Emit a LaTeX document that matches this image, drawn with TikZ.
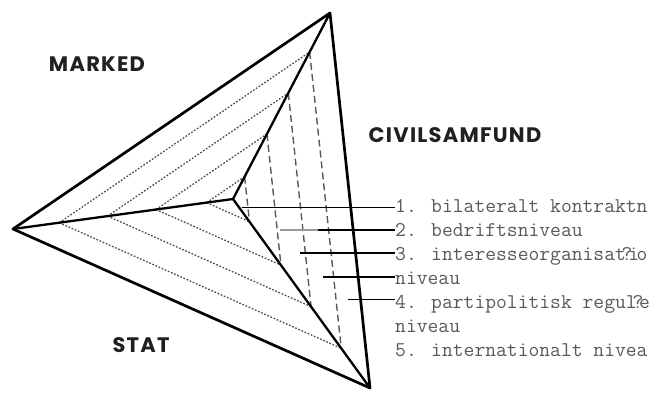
\documentclass[tikz,border=0pt]{standalone}
\usepackage{fontspec}
\newfontfamily\headfont{Poppins}[LetterSpace=6]
\usetikzlibrary{calc}
\definecolor{headink}{HTML}{231F20}
\newcommand\squeezeq[1]{\kern-0.2em?\kern-0.2em#1\kern-0.125em}
\begin{document}
\begin{tikzpicture}[x=1pt, y=-1pt, line join=round, line cap=round,
	frame/.style={line width=2.7pt},
	spoke/.style={line width=2.3pt},
	dotline/.style={draw=black!70, line width=1.3pt, line cap=butt, dash pattern=on 1.7pt off 1.7pt},
	dashline/.style={draw=black!65, line width=1.4pt, line cap=butt, dash pattern=on 7pt off 4pt},
	pointer/.style={line width=1.4pt, line cap=butt},
	level/.style={font=\ttfamily\fontsize{21}{24}\selectfont, text=black!65, anchor=base west, inner sep=0pt},
	sector/.style={font=\headfont\bfseries\fontsize{21}{24}\selectfont, text=headink, inner sep=0pt}]
	\useasboundingbox (0,0) rectangle (652,394);
	\coordinate (L) at (13,229);
	\coordinate (T) at (330,13);
	\coordinate (B) at (370,388);
	\coordinate (C) at (233,199);

	% marked
	\draw[dotline] ($(C)!0.12!(L)$)--($(C)!0.12!(T)$);
	\draw[dotline] ($(C)!0.35!(L)$)--($(C)!0.35!(T)$);
	\draw[dotline] ($(C)!0.57!(L)$)--($(C)!0.57!(T)$);
	\draw[dotline] ($(C)!0.79!(L)$)--($(C)!0.79!(T)$);
	% stat
	\draw[dotline] ($(C)!0.12!(L)$)--($(C)!0.12!(B)$);
	\draw[dotline] ($(C)!0.35!(L)$)--($(C)!0.35!(B)$);
	\draw[dotline] ($(C)!0.57!(L)$)--($(C)!0.57!(B)$);
	\draw[dotline] ($(C)!0.79!(L)$)--($(C)!0.79!(B)$);
	% civilsamfund
	\draw[dashline] ($(C)!0.12!(T)$)--($(C)!0.12!(B)$);
	\draw[dashline] ($(C)!0.35!(T)$)--($(C)!0.35!(B)$);
	\draw[dashline] ($(C)!0.57!(T)$)--($(C)!0.57!(B)$);
	\draw[dashline] ($(C)!0.79!(T)$)--($(C)!0.79!(B)$);

	\draw[spoke] (L)--(C) (T)--(C)--(B);
	\draw[frame] (L)--(T)--(B)--cycle;

	\path
	(97,64) node[sector] (marked) {MARKED}
	(455,135) node[sector] (civil) {CIVILSAMFUND}
	(141,345.5) node[sector] (stat) {STAT}

	(395,212.5) node[level] (l1) {1. bilateralt kontraktn}
	(395,236.5) node[level] (l2) {2. bedriftsniveau}
	(395,260.5) node[level] (l3) {3. interesseorganisat\squeezeq{i}o}
	(395,284.5) node[level] (l3b) {niveau}
	(395,308.5) node[level] (l4) {4. partipolitisk regul\squeezeq{e}}
	(395,332.5) node[level] (l4b) {niveau}
	(395,356.5) node[level] (l5) {5. internationalt nivea};

	\coordinate (p1) at (242,207.5);
	\coordinate (p2) at (280,230);
	\coordinate (q2) at (318,230);
	\coordinate (p3) at (300,253);
	\coordinate (p4) at (323,277);
	\coordinate (p5) at (348,299.5);
	\draw[pointer] (p1)--(p1 -| l1.west);
	\draw[pointer, draw=black!40] (p2)--(q2);
	\draw[pointer] (q2)--(q2 -| l2.west);
	\draw[pointer] (p3)--(p3 -| l3.west);
	\draw[pointer] (p4)--(p4 -| l3b.west);
	\draw[pointer] (p5)--(p5 -| l4.west);
\end{tikzpicture}
\end{document}
